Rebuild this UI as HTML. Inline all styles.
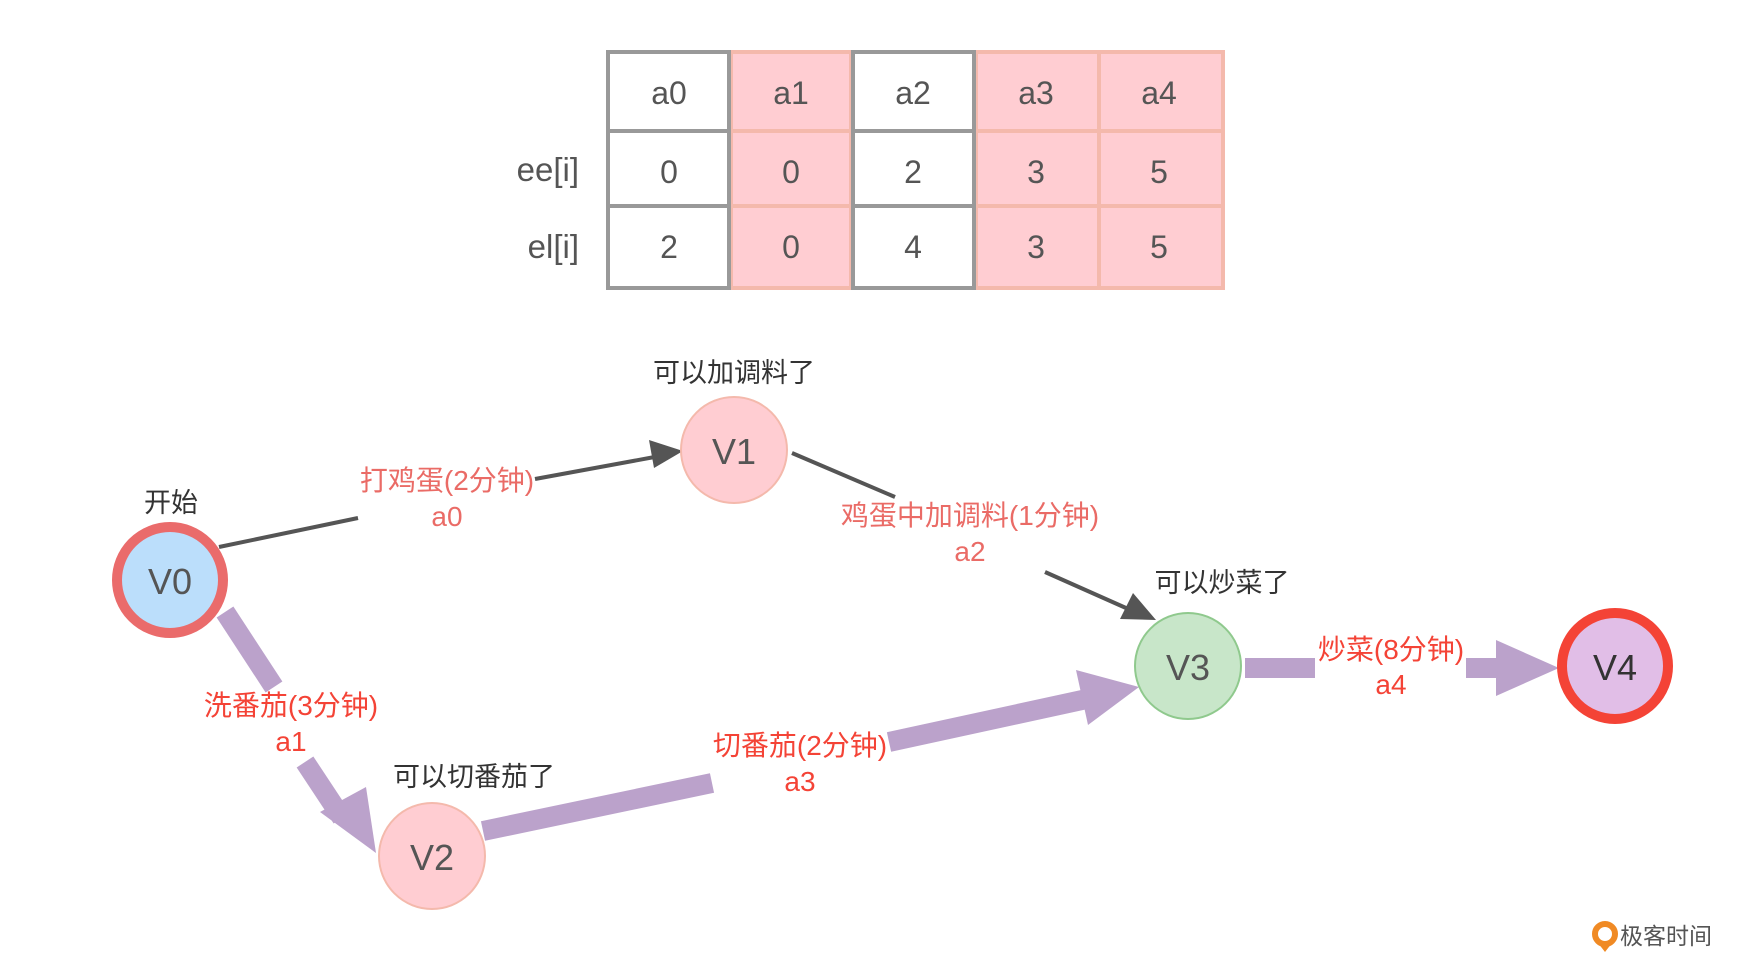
<!DOCTYPE html>
<html><head><meta charset="utf-8"><style>
html,body{margin:0;padding:0;background:#fff;}
svg{display:block;}
text{font-family:"Liberation Sans","Noto Sans CJK SC",sans-serif;}
</style></head><body>
<svg width="1752" height="978" viewBox="0 0 1752 978" xmlns="http://www.w3.org/2000/svg">
<rect width="1752" height="978" fill="#fff"/>
<g>
<rect x="729" y="50" width="122" height="240" fill="#ffcdd2"/>
<rect x="974" y="50" width="251" height="240" fill="#ffcdd2"/>
<g stroke="#f4b9ac" stroke-width="4" fill="none">
<rect x="731" y="52" width="120" height="236"/>
<rect x="976" y="52" width="247" height="236"/>
<line x1="1099" y1="52" x2="1099" y2="288"/>
<line x1="729" y1="131" x2="851" y2="131"/><line x1="729" y1="206" x2="851" y2="206"/>
<line x1="974" y1="131" x2="1225" y2="131"/><line x1="974" y1="206" x2="1225" y2="206"/>
</g>
<g stroke="#999" stroke-width="4" fill="none">
<rect x="608" y="52" width="121" height="236"/>
<rect x="853" y="52" width="121" height="236"/>
<line x1="608" y1="131" x2="729" y2="131"/><line x1="608" y1="206" x2="729" y2="206"/>
<line x1="853" y1="131" x2="974" y2="131"/><line x1="853" y1="206" x2="974" y2="206"/>
</g>
<g font-size="32" fill="#555" text-anchor="middle">
<text x="669" y="104">a0</text><text x="791" y="104">a1</text><text x="913" y="104">a2</text><text x="1036" y="104">a3</text><text x="1159" y="104">a4</text>
<text x="669" y="183">0</text><text x="791" y="183">0</text><text x="913" y="183">2</text><text x="1036" y="183">3</text><text x="1159" y="183">5</text>
<text x="669" y="258">2</text><text x="791" y="258">0</text><text x="913" y="258">4</text><text x="1036" y="258">3</text><text x="1159" y="258">5</text>
<text x="579" y="181" text-anchor="end" font-size="33">ee[i]</text>
<text x="579" y="258" text-anchor="end" font-size="33">el[i]</text>
</g>
</g>
<g stroke="#555" stroke-width="4" fill="none">
<line x1="219" y1="547" x2="358" y2="518"/>
<line x1="535" y1="479" x2="660" y2="456"/>
<line x1="792" y1="453" x2="895" y2="497"/>
<line x1="1045" y1="572" x2="1126" y2="608"/>
</g>
<polygon points="683,451 649,440 654,468" fill="#555"/>
<polygon points="1156,620 1133,593 1120,619" fill="#555"/>
<g stroke="#bba2cb" stroke-width="20" fill="none">
<line x1="225" y1="612" x2="274" y2="687"/>
<line x1="305" y1="762" x2="342" y2="818"/>
<line x1="483" y1="831" x2="712" y2="783"/>
<line x1="889" y1="742" x2="1096" y2="697"/>
<line x1="1245" y1="668" x2="1315" y2="668"/>
<line x1="1466" y1="668" x2="1516" y2="668"/>
</g>
<polygon points="376,853 320,812 366,787" fill="#bba2cb"/>
<polygon points="1139,687 1088,725 1076,670" fill="#bba2cb"/>
<polygon points="1559,668 1496,640 1496,696" fill="#bba2cb"/>
<circle cx="170" cy="580" r="53" fill="#bbdefb" stroke="#ea6b6b" stroke-width="10"/>
<circle cx="734" cy="450" r="53" fill="#ffcdd2" stroke="#f4b9ac" stroke-width="2"/>
<circle cx="432" cy="856" r="53" fill="#ffcdd2" stroke="#f4b9ac" stroke-width="2"/>
<circle cx="1188" cy="666" r="53" fill="#c8e6c9" stroke="#8fc98d" stroke-width="2"/>
<circle cx="1615" cy="666" r="53" fill="#e1bee7" stroke="#f44336" stroke-width="10"/>
<g font-size="36" fill="#555" text-anchor="middle">
<text x="170" y="594">V0</text><text x="734" y="464">V1</text><text x="432" y="870">V2</text><text x="1188" y="680">V3</text>
<text x="1615" y="680" fill="#333">V4</text>
</g>
<g font-size="27" fill="#333" text-anchor="middle">
<text x="171" y="512">开始</text>
<text x="734" y="382">可以加调料了</text>
<text x="474" y="786">可以切番茄了</text>
<text x="1222" y="592">可以炒菜了</text>
</g>
<g font-size="28" text-anchor="middle">
<g fill="#ea6b66">
<text x="447" y="490">打鸡蛋(2分钟)</text><text x="447" y="526">a0</text>
<text x="970" y="525">鸡蛋中加调料(1分钟)</text><text x="970" y="561">a2</text>
</g>
<g fill="#f44336">
<text x="291" y="715">洗番茄(3分钟)</text><text x="291" y="751">a1</text>
<text x="800" y="755">切番茄(2分钟)</text><text x="800" y="791">a3</text>
<text x="1391" y="659">炒菜(8分钟)</text><text x="1391" y="694">a4</text>
</g>
</g>
<circle cx="1605" cy="934" r="10" fill="none" stroke="#f08a24" stroke-width="6"/>
<path d="M1598 943 L1605 952 L1612 943" fill="#f08a24"/>
<text x="1620" y="944" font-size="23" fill="#555">极客时间</text>
</svg>
</body></html>
